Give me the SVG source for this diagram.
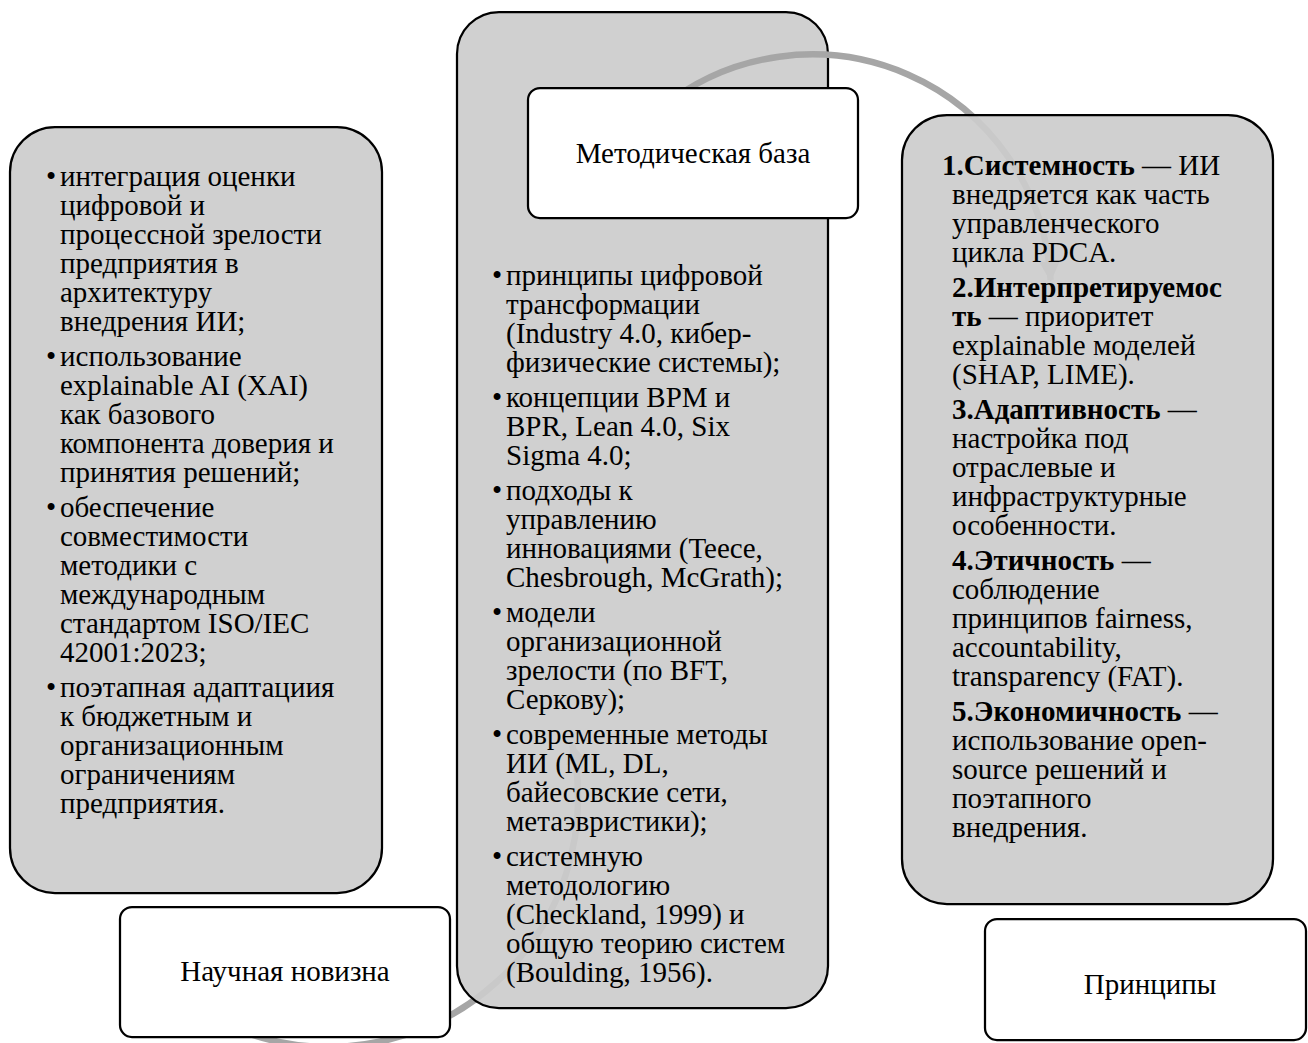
<svg xmlns="http://www.w3.org/2000/svg" width="1308" height="1043" viewBox="0 0 1308 1043">
  <style>
    .card { fill: #cccccc; fill-opacity: 0.92; stroke: #000; stroke-width: 2.25; }
    .label { fill: #ffffff; stroke: #000; stroke-width: 2.25; }
    .arc { fill: none; stroke: #a6a6a6; stroke-width: 6.5; }
    text { font-family: "Liberation Serif", "Times New Roman", serif; font-size: 29px; fill: #000; }
    .c { text-anchor: middle; }
    .b { font-weight: bold; }
  </style>
  <defs>
    <marker id="head" viewBox="0 0 10 10" refX="9" refY="5" markerWidth="3.2" markerHeight="3.2" orient="auto" markerUnits="strokeWidth">
      <path d="M0,0 L10,5 L0,10 Z" fill="#a6a6a6"/>
    </marker>
  </defs>

  <!-- connector into the central card (lies beneath it) -->
  <g id="connectors-lower">
    <path class="arc" d="M250,1034 A249,249 0 0,0 572.3,745" marker-end="url(#head)"/>
  </g>

  <!-- Научная новизна -->
  <g id="node-novelty">
    <rect class="card" x="10" y="127" width="372" height="766" rx="45"/>
    <text x="46" y="186">•</text>
    <text x="60" y="186">интеграция оценки</text>
    <text x="60" y="215">цифровой и</text>
    <text x="60" y="244">процессной зрелости</text>
    <text x="60" y="273">предприятия в</text>
    <text x="60" y="302">архитектуру</text>
    <text x="60" y="331">внедрения ИИ;</text>
    <text x="46" y="366">•</text>
    <text x="60" y="366">использование</text>
    <text x="60" y="395">explainable AI (XAI)</text>
    <text x="60" y="424">как базового</text>
    <text x="60" y="453">компонента доверия и</text>
    <text x="60" y="482">принятия решений;</text>
    <text x="46" y="517">•</text>
    <text x="60" y="517">обеспечение</text>
    <text x="60" y="546">совместимости</text>
    <text x="60" y="575">методики с</text>
    <text x="60" y="604">международным</text>
    <text x="60" y="633">стандартом ISO/IEC</text>
    <text x="60" y="662">42001:2023;</text>
    <text x="46" y="697">•</text>
    <text x="60" y="697">поэтапная адаптациия</text>
    <text x="60" y="726">к бюджетным и</text>
    <text x="60" y="755">организационным</text>
    <text x="60" y="784">ограничениям</text>
    <text x="60" y="813">предприятия.</text>
    <rect class="label" x="120" y="907" width="330" height="130" rx="12"/>
    <text class="c" x="285" y="981">Научная новизна</text>
  </g>

  <!-- Методическая база -->
  <g id="node-methods">
    <rect class="card" x="457" y="12" width="371" height="996" rx="42"/>
    <text x="492" y="285">•</text>
    <text x="506" y="285">принципы цифровой</text>
    <text x="506" y="314">трансформации</text>
    <text x="506" y="343">(Industry 4.0, кибер-</text>
    <text x="506" y="372">физические системы);</text>
    <text x="492" y="407">•</text>
    <text x="506" y="407">концепции BPM и</text>
    <text x="506" y="436">BPR, Lean 4.0, Six</text>
    <text x="506" y="465">Sigma 4.0;</text>
    <text x="492" y="500">•</text>
    <text x="506" y="500">подходы к</text>
    <text x="506" y="529">управлению</text>
    <text x="506" y="558">инновациями (Teece,</text>
    <text x="506" y="587">Chesbrough, McGrath);</text>
    <text x="492" y="622">•</text>
    <text x="506" y="622">модели</text>
    <text x="506" y="651">организационной</text>
    <text x="506" y="680">зрелости (по BFT,</text>
    <text x="506" y="709">Серкову);</text>
    <text x="492" y="744">•</text>
    <text x="506" y="744">современные методы</text>
    <text x="506" y="773">ИИ (ML, DL,</text>
    <text x="506" y="802">байесовские сети,</text>
    <text x="506" y="831">метаэвристики);</text>
    <text x="492" y="866">•</text>
    <text x="506" y="866">системную</text>
    <text x="506" y="895">методологию</text>
    <text x="506" y="924">(Checkland, 1999) и</text>
    <text x="506" y="953">общую теорию систем</text>
    <text x="506" y="982">(Boulding, 1956).</text>
  </g>

  <!-- connector from the central card towards the principles card -->
  <g id="connectors-upper">
    <path class="arc" d="M660,109 A239,239 0 0,1 1050.6,280" marker-end="url(#head)"/>
  </g>

  <g id="node-methods-label">
    <rect class="label" x="528" y="88" width="330" height="130" rx="12"/>
    <text class="c" x="693" y="163">Методическая база</text>
  </g>

  <!-- Принципы -->
  <g id="node-principles">
    <rect class="card" x="902" y="115" width="371" height="789" rx="45"/>
    <text x="942" y="175"><tspan class="b">1.Системность</tspan> — ИИ</text>
    <text x="952" y="204">внедряется как часть</text>
    <text x="952" y="233">управленческого</text>
    <text x="952" y="262">цикла PDCA.</text>
    <text x="952" y="297" class="b">2.Интерпретируемос</text>
    <text x="952" y="326"><tspan class="b">ть</tspan> — приоритет</text>
    <text x="952" y="355">explainable моделей</text>
    <text x="952" y="384">(SHAP, LIME).</text>
    <text x="952" y="419"><tspan class="b">3.Адаптивность</tspan> —</text>
    <text x="952" y="448">настройка под</text>
    <text x="952" y="477">отраслевые и</text>
    <text x="952" y="506">инфраструктурные</text>
    <text x="952" y="535">особенности.</text>
    <text x="952" y="570"><tspan class="b">4.Этичность</tspan> —</text>
    <text x="952" y="599">соблюдение</text>
    <text x="952" y="628">принципов fairness,</text>
    <text x="952" y="657">accountability,</text>
    <text x="952" y="686">transparency (FAT).</text>
    <text x="952" y="721"><tspan class="b">5.Экономичность</tspan> —</text>
    <text x="952" y="750">использование open-</text>
    <text x="952" y="779">source решений и</text>
    <text x="952" y="808">поэтапного</text>
    <text x="952" y="837">внедрения.</text>
    <rect class="label" x="985" y="919" width="321" height="121" rx="12"/>
    <text class="c" x="1150" y="994">Принципы</text>
  </g>
</svg>
